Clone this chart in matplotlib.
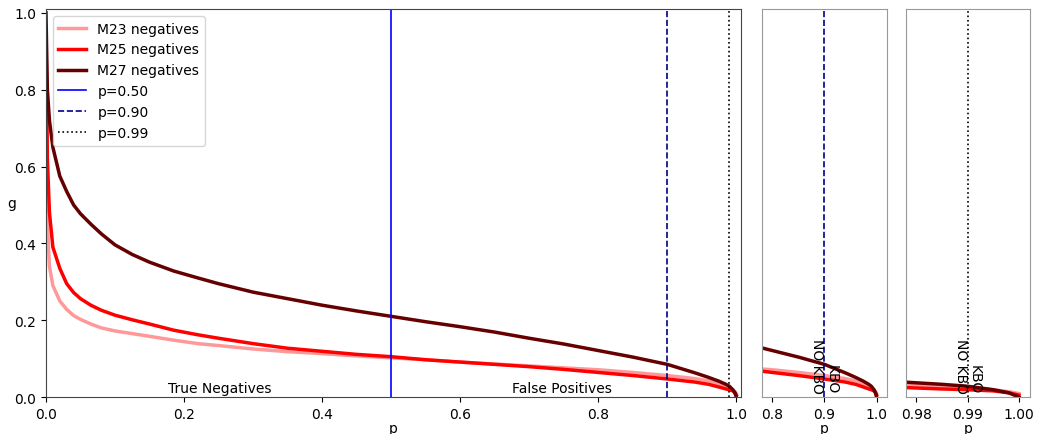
import matplotlib
matplotlib.use('Agg')
import matplotlib.pyplot as plt

# fraction of negatives (p) and score threshold g for each model
p = [0, 0.002, 0.005, 0.01, 0.02, 0.03, 0.04, 0.05, 0.065, 0.08, 0.1, 0.125,
     0.15, 0.185, 0.22, 0.25, 0.3, 0.35, 0.4, 0.45, 0.5, 0.55, 0.6, 0.65,
     0.7, 0.75, 0.8, 0.85, 0.9, 0.94, 0.96, 0.975, 0.985, 0.99, 0.995, 0.998,
     1.0]

g_m23 = [0.90, 0.45, 0.34, 0.29, 0.25, 0.228, 0.212, 0.202, 0.19, 0.18,
         0.172, 0.165, 0.158, 0.148, 0.139, 0.134, 0.125, 0.118, 0.113, 0.107,
         0.102, 0.097, 0.091, 0.086, 0.081, 0.076, 0.071, 0.064, 0.056, 0.048,
         0.042, 0.034, 0.028, 0.024, 0.019, 0.014, 0.009]
g_m25 = [0.95, 0.62, 0.48, 0.39, 0.335, 0.295, 0.272, 0.256, 0.239, 0.226,
         0.213, 0.201, 0.19, 0.174, 0.162, 0.153, 0.139, 0.127, 0.119, 0.111,
         0.105, 0.097, 0.091, 0.085, 0.079, 0.072, 0.064, 0.056, 0.047, 0.039,
         0.033, 0.026, 0.021, 0.019, 0.016, 0.011, 0.005]
g_m27 = [1.0, 0.80, 0.72, 0.65, 0.575, 0.535, 0.50, 0.477, 0.45, 0.425,
         0.396, 0.371, 0.351, 0.328, 0.31, 0.295, 0.273, 0.256, 0.239, 0.224,
         0.210, 0.196, 0.183, 0.169, 0.153, 0.138, 0.121, 0.104, 0.085, 0.063,
         0.051, 0.041, 0.033, 0.028, 0.019, 0.011, 0.0]

series = [('M23 negatives', g_m23, '#ff9999'),
          ('M25 negatives', g_m25, '#ff0000'),
          ('M27 negatives', g_m27, '#660000')]

thresholds = [(0.50, 'blue', '-'), (0.90, 'darkblue', '--'), (0.99, 'black', ':')]

fig = plt.figure(figsize=(10.38, 4.35), dpi=100)
ax = fig.add_axes([0.0443, 0.085, 0.6697, 0.892])
ax2 = fig.add_axes([0.734, 0.085, 0.1205, 0.892])
ax3 = fig.add_axes([0.873, 0.085, 0.1195, 0.892])

for a in (ax, ax2, ax3):
    for label, g, c in series:
        a.plot(p, g, color=c, lw=2.5, label=label)
    a.set_ylim(0, 1.01)
    a.set_xlabel('p', labelpad=0)

for val, c, ls in thresholds:
    ax.axvline(val, color=c, ls=ls, lw=1.2, label='p=%.2f' % val)

ax.set_xlim(0, 1.007)
ax.set_ylabel('g', rotation=0, labelpad=2, va='center')
ax.text(0.252, 0.005, 'True Negatives', ha='center', va='bottom')
ax.text(0.748, 0.005, 'False Positives', ha='center', va='bottom')
ax.legend(loc='upper left')
for s in ax.spines.values():
    s.set_color('#444444')

ax2.axvline(0.90, color='darkblue', ls='--', lw=1.2)
ax2.set_xlim(0.78, 1.02)
ax2.set_xticks([0.8, 0.9, 1.0])
ax3.axvline(0.99, color='black', ls=':', lw=1.2)
ax3.set_xlim(0.978, 1.0022)
ax3.set_xticks([0.98, 0.99, 1.00])

for a, x0 in ((ax2, 0.90), (ax3, 0.99)):
    a.set_yticks([])
    a.text(x0, 0.01, 'NO KBO', rotation=270, ha='right', va='bottom')
    a.text(x0, 0.01, 'KBO', rotation=270, ha='left', va='bottom')
    for s in a.spines.values():
        s.set_color('#999999')

fig.savefig('out.png')
